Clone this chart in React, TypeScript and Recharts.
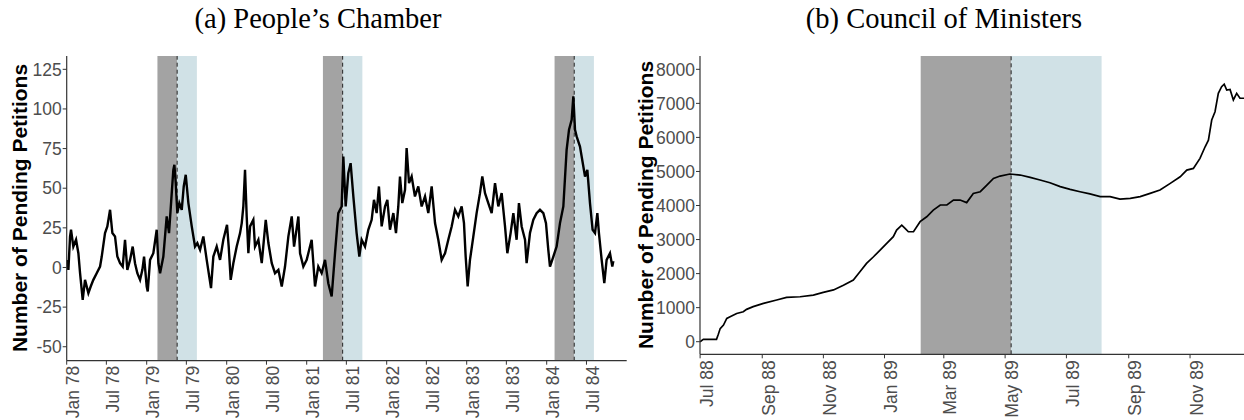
import React from 'react';
import {
    LineChart, Line, XAxis, YAxis, ReferenceArea, ReferenceLine
} from 'recharts';

// People's Chamber: time as decimal year, pending petitions
const pcTime = [
    1978.000, 1978.021, 1978.042, 1978.054, 1978.083, 1978.117, 1978.146, 1978.167, 1978.200, 1978.229,
    1978.271, 1978.300, 1978.333, 1978.375, 1978.417, 1978.438, 1978.479, 1978.508, 1978.542, 1978.571,
    1978.604, 1978.633, 1978.667, 1978.700, 1978.729, 1978.758, 1978.792, 1978.825, 1978.854, 1978.883,
    1978.917, 1978.946, 1978.967, 1979.000, 1979.013, 1979.042, 1979.083, 1979.125, 1979.146, 1979.167,
    1979.208, 1979.250, 1979.279, 1979.313, 1979.333, 1979.346, 1979.363, 1979.383, 1979.408, 1979.438,
    1979.463, 1979.488, 1979.521, 1979.563, 1979.604, 1979.633, 1979.667, 1979.708, 1979.750, 1979.804,
    1979.833, 1979.875, 1979.917, 1979.958, 1980.004, 1980.025, 1980.050, 1980.083, 1980.125, 1980.167,
    1980.188, 1980.208, 1980.229, 1980.250, 1980.271, 1980.292, 1980.333, 1980.354, 1980.396, 1980.438,
    1980.488, 1980.521, 1980.563, 1980.604, 1980.646, 1980.688, 1980.729, 1980.771, 1980.813, 1980.842,
    1980.896, 1980.917, 1980.958, 1981.000, 1981.062, 1981.104, 1981.145, 1981.187, 1981.229, 1981.270,
    1981.312, 1981.354, 1981.395, 1981.437, 1981.458, 1981.487, 1981.520, 1981.549, 1981.583, 1981.624,
    1981.658, 1981.687, 1981.729, 1981.770, 1981.812, 1981.841, 1981.874, 1981.903, 1981.937, 1981.979,
    1982.008, 1982.041, 1982.083, 1982.116, 1982.145, 1982.166, 1982.195, 1982.229, 1982.249, 1982.279,
    1982.312, 1982.353, 1982.395, 1982.437, 1982.479, 1982.520, 1982.562, 1982.604, 1982.645, 1982.687,
    1982.729, 1982.770, 1982.812, 1982.854, 1982.895, 1982.937, 1982.966, 1982.987, 1983.012, 1983.041,
    1983.083, 1983.124, 1983.166, 1983.195, 1983.229, 1983.270, 1983.312, 1983.354, 1983.395, 1983.437,
    1983.479, 1983.508, 1983.549, 1983.583, 1983.624, 1983.653, 1983.687, 1983.729, 1983.749, 1983.791,
    1983.833, 1983.874, 1983.916, 1983.958, 1983.991, 1984.020, 1984.041, 1984.083, 1984.124, 1984.166,
    1984.208, 1984.249, 1984.279, 1984.312, 1984.333, 1984.354, 1984.374, 1984.416, 1984.458, 1984.479,
    1984.508, 1984.541, 1984.574, 1984.604, 1984.633, 1984.653, 1984.687, 1984.720, 1984.749, 1984.791,
    1984.820, 1984.833,
];
const pcPending = [
    4.8, -1.5, 19.6, 23.8, 13.2, 17.5, 9.0, -3.6, -20.4, -7.8,
    -16.2, -12.0, -7.8, -3.6, 0.6, 6.9, 21.7, 25.9, 36.4, 21.7,
    19.6, 6.9, 2.7, 0.6, 17.5, -1.5, 4.8, 13.2, 2.7, -3.6,
    -7.8, -1.5, 6.9, -12.0, -15.1, 4.8, 9.0, 23.8, 2.7, -3.6,
    6.9, 32.2, 21.7, 46.9, 61.6, 64.8, 53.2, 34.3, 40.6, 36.4,
    51.1, 58.5, 40.6, 25.9, 13.2, 15.4, 11.1, 19.6, 4.8, -13.0,
    6.9, 13.2, 4.8, 17.5, 26.9, 13.2, -7.8, 2.7, 13.2, 21.7,
    28.0, 38.5, 61.6, 32.2, 9.0, 25.9, 30.1, 13.2, 17.5, 2.7,
    30.1, 15.4, 2.7, -3.6, -1.5, -12.0, 0.6, 19.6, 32.2, 13.2,
    32.2, 9.0, 0.6, 4.8, 17.5, -12.0, 0.6, -3.6, 4.8, -9.9,
    -18.3, 9.0, 34.3, 38.5, 70.0, 38.5, 59.5, 65.8, 44.8, 21.7,
    6.9, 17.5, 13.2, 23.8, 30.1, 42.7, 34.3, 51.1, 25.9, 38.5,
    42.7, 23.8, 34.3, 21.7, 38.5, 57.4, 40.6, 49.0, 75.3, 53.2,
    57.4, 44.8, 51.1, 38.5, 44.8, 34.3, 51.1, 28.0, 17.5, 4.8,
    9.0, 17.5, 25.9, 36.4, 32.2, 38.5, 28.0, 6.9, -12.0, 4.8,
    19.6, 34.3, 46.9, 57.4, 46.9, 40.6, 34.3, 53.2, 38.5, 46.9,
    25.9, 9.0, 21.7, 34.3, 17.5, 40.6, 25.9, 17.5, 2.7, 21.7,
    30.1, 34.3, 36.4, 34.3, 28.0, 11.1, 0.6, 6.9, 13.2, 28.0,
    38.5, 74.2, 86.9, 93.2, 107.9, 86.9, 82.7, 76.3, 63.7, 57.4,
    61.6, 40.6, 23.8, 21.7, 34.3, 21.7, 4.8, -9.9, 4.8, 9.0,
    0.6, 4.0,
];
const pcTicks = [
    'Jan 78', 'Jul 78', 'Jan 79', 'Jul 79', 'Jan 80', 'Jul 80', 'Jan 81',
    'Jul 81', 'Jan 82', 'Jul 82', 'Jan 83', 'Jul 83', 'Jan 84', 'Jul 84',
];
const pcYTicks = [-50, -25, 0, 25, 50, 75, 100, 125];
const pcElections = ['1979-05-20', '1981-06-14', '1984-05-06'];

// Council of Ministers
const cmTime = [
    1988.497, 1988.506, 1988.542, 1988.547, 1988.552, 1988.561, 1988.570, 1988.579, 1988.597, 1988.615,
    1988.624, 1988.642, 1988.670, 1988.706, 1988.733, 1988.770, 1988.806, 1988.833, 1988.861, 1988.888,
    1988.915, 1988.933, 1988.951, 1988.970, 1988.988, 1989.006, 1989.024, 1989.033, 1989.047, 1989.056,
    1989.065, 1989.079, 1989.097, 1989.115, 1989.133, 1989.152, 1989.170, 1989.188, 1989.206, 1989.224,
    1989.242, 1989.261, 1989.279, 1989.297, 1989.315, 1989.342, 1989.370, 1989.397, 1989.424, 1989.451,
    1989.479, 1989.506, 1989.533, 1989.560, 1989.588, 1989.615, 1989.642, 1989.670, 1989.697, 1989.724,
    1989.751, 1989.779, 1989.806, 1989.824, 1989.842, 1989.860, 1989.874, 1989.883, 1989.892, 1989.901,
    1989.910, 1989.919, 1989.926, 1989.933, 1989.942, 1989.951, 1989.960, 1989.969, 1989.980,
];
const cmPending = [
    0, 70, 70, 220, 385, 490, 685, 735, 830, 880,
    950, 1030, 1125, 1225, 1300, 1320, 1370, 1450, 1520, 1660,
    1810, 2055, 2300, 2495, 2690, 2890, 3085, 3280, 3425, 3330,
    3230, 3230, 3525, 3670, 3865, 4015, 4015, 4160, 4160, 4085,
    4355, 4405, 4600, 4795, 4865, 4925, 4895, 4825, 4750, 4670,
    4555, 4475, 4405, 4340, 4260, 4260, 4190, 4210, 4260, 4355,
    4455, 4650, 4845, 5040, 5090, 5385, 5725, 5920, 6510, 6755,
    7295, 7490, 7565, 7390, 7410, 7100, 7295, 7150, 7150,
];
const cmTicks = ['Jul 88', 'Sep 88', 'Nov 88', 'Jan 89', 'Mar 89', 'May 89', 'Jul 89', 'Sep 89', 'Nov 89'];
const cmYTicks = [0, 1000, 2000, 3000, 4000, 5000, 6000, 7000, 8000];
const cmElections = ['1989-05-07'];

const MONTHS = ['Jan', 'Feb', 'Mar', 'Apr', 'May', 'Jun', 'Jul', 'Aug', 'Sep', 'Oct', 'Nov', 'Dec'];
const DAY = 86400000;

const msToDec = (ms: number) => {
    const y = new Date(ms).getUTCFullYear();
    const s = Date.UTC(y, 0, 1);
    return y + (ms - s) / (Date.UTC(y + 1, 0, 1) - s);
};
const labelToDec = (lab: string) => {
    const [m, yy] = lab.split(' ');
    return msToDec(Date.UTC(1900 + Number(yy), MONTHS.indexOf(m), 1));
};
// pre-election window (dark) and post-election window (light), 90 days each
const windows = (dates: string[]) => dates.map(d => {
    const ms = Date.parse(d);
    return { pre: msToDec(ms - 90 * DAY), day: msToDec(ms), post: msToDec(ms + 90 * DAY) };
});

const pcData = pcTime.map((t, i) => ({ t, v: pcPending[i] }));
const cmData = cmTime.map((t, i) => ({ t, v: cmPending[i] }));

const FONT = '"Liberation Sans", Arial, sans-serif';
const TEXT = '#4d4d4d';
const AXIS = '#333333';

const makeTick = (labels: string[]) => (props: any) => {
    const { x, y, payload } = props;
    const label = labels.find(l => Math.abs(labelToDec(l) - payload.value) < 1e-6) || '';
    return (
        <text transform={`translate(${x},${y}) rotate(-90)`} textAnchor="end" dy="0.72em"
            fill={TEXT} fontSize={17.5} fontFamily={FONT}>{label}</text>
    );
};

const Title = ({ text, cx }: { text: string; cx: number }) => (
    <div style={{
        position: 'absolute', left: cx, top: 2, transform: 'translateX(-50%)', whiteSpace: 'nowrap',
        fontFamily: '"Liberation Serif", serif', fontSize: 28.5, lineHeight: '34px', color: '#000',
    }}>{text}</div>
);

const YTitle = ({ cx, cy }: { cx: number; cy: number }) => (
    <div style={{
        position: 'absolute', left: cx, top: cy, transform: 'translate(-50%, -50%) rotate(-90deg)',
        whiteSpace: 'nowrap', fontFamily: FONT, fontWeight: 'bold', fontSize: 21, lineHeight: '24px', color: '#000',
    }}>Number of Pending Petitions</div>
);

const Panel = ({ data, ticks, yTicks, yDomain, xDomain, elections, width, yWidth, xHeight, right, strokeWidth, tickMargin }: any) => {
    const xTicks = ticks.map(labelToDec);
    return (
        <LineChart width={width} height={420} data={data} margin={{ top: 56, right, left: 0, bottom: 0 }}>
            <XAxis dataKey="t" type="number" domain={xDomain} ticks={xTicks} interval={0} allowDataOverflow
                height={xHeight} tickSize={4} tickMargin={tickMargin} tick={makeTick(ticks)}
                axisLine={{ stroke: AXIS, strokeWidth: 1.2 }} tickLine={{ stroke: AXIS }} />
            <YAxis type="number" domain={yDomain} ticks={yTicks} interval={0} allowDataOverflow width={yWidth}
                tickSize={4} tickMargin={1} tick={{ fill: TEXT, fontSize: 17.5, fontFamily: FONT }}
                axisLine={{ stroke: AXIS, strokeWidth: 1.2 }} tickLine={{ stroke: AXIS }} />
            {windows(elections).map((w: any, i: number) => (
                <ReferenceArea key={`a${i}`} x1={w.pre} x2={w.day} y1={yDomain[0]} y2={yDomain[1]}
                    fill="#a3a3a3" fillOpacity={1} stroke="none" />
            ))}
            {windows(elections).map((w: any, i: number) => (
                <ReferenceArea key={`b${i}`} x1={w.day} x2={w.post} y1={yDomain[0]} y2={yDomain[1]}
                    fill="#d0e1e6" fillOpacity={1} stroke="none" />
            ))}
            {windows(elections).map((w: any, i: number) => (
                <ReferenceLine key={`l${i}`} x={w.day} stroke="#222" strokeWidth={1} strokeDasharray="4 3" />
            ))}
            <Line type="linear" dataKey="v" stroke="#000" strokeWidth={strokeWidth} dot={false}
                isAnimationActive={false} />
        </LineChart>
    );
};

const App = () => (
    <div style={{ position: 'absolute', left: 0, top: 0, width: 1244, height: 420, background: '#fff', overflow: 'hidden' }}>
        <div style={{ position: 'absolute', left: 0, top: 0 }}>
            <Panel data={pcData} ticks={pcTicks} yTicks={pcYTicks} yDomain={[-58.8, 133.4]} xDomain={[1978, 1985]}
                elections={pcElections} width={630} yWidth={66.7} xHeight={59.3} right={3.3} strokeWidth={2.4} tickMargin={1} />
        </div>
        <div style={{ position: 'absolute', left: 630, top: 0 }}>
            <Panel data={cmData} ticks={cmTicks} yTicks={cmYTicks} yDomain={[-370, 8391]} xDomain={[1988.497, 1989.98]}
                elections={cmElections} width={614} yWidth={70} xHeight={65.7} right={0} strokeWidth={1.7} tickMargin={2} />
        </div>
        <Title text="(a) People’s Chamber" cx={318} />
        <Title text="(b) Council of Ministers" cx={944} />
        <YTitle cx={20} cy={208} />
        <YTitle cx={646} cy={205} />
    </div>
);

export default App;
